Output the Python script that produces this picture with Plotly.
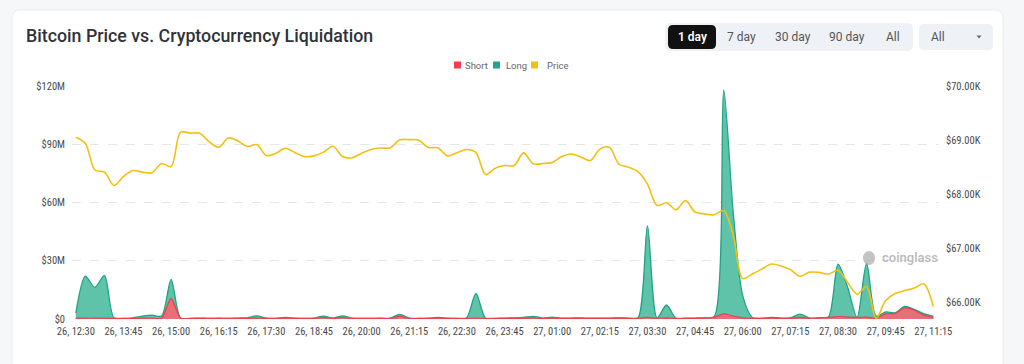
import plotly.graph_objects as go

# ---------------- data ----------------
x_labels = ["26, 12:30", "26, 13:45", "26, 15:00", "26, 16:15", "26, 17:30", "26, 18:45",
            "26, 20:00", "26, 21:15", "26, 22:30", "26, 23:45", "27, 01:00", "27, 02:15",
            "27, 03:30", "27, 04:45", "27, 06:00", "27, 07:15", "27, 08:30", "27, 09:45",
            "27, 11:15"]

long_m = [3.0, 22.1, 16.3, 22.5, 0.6, 0.3, 0.6, 1.5, 2.0, 1.5,
          20.4, 0.4, 0.3, 0.5, 0.3, 0.4, 0.3, 0.5, 0.6, 1.6,
          0.4, 0.3, 0.8, 0.4, 0.3, 0.4, 1.5, 0.5, 1.6, 0.4,
          0.3, 0.3, 0.4, 0.5, 2.4, 0.5, 0.3, 0.4, 0.8, 0.4,
          0.3, 0.5, 13.2, 0.4, 0.3, 0.5, 0.6, 0.8, 1.4, 0.5,
          1.0, 0.4, 0.5, 0.6, 0.4, 0.5, 0.5, 0.6, 0.5, 0.5,
          48.0, 0.5, 7.2, 0.4, 0.5, 0.5, 0.6, 1.2, 118.0, 55.0,
          12.0, 0.8, 0.4, 0.8, 0.5, 0.6, 2.5, 0.5, 0.6, 1.0,
          28.2, 16.5, 0.8, 28.7, 1.5, 3.6, 3.2, 6.5, 5.0, 2.8,
          1.5]

short_m = [0.5, 0.4, 0.4, 0.4, 0.3, 0.3, 0.3, 0.4, 0.4, 0.5,
           10.5, 0.5, 0.3, 0.3, 0.3, 0.3, 0.3, 0.3, 0.3, 0.5,
           0.3, 0.3, 0.4, 0.3, 0.3, 0.3, 0.8, 0.3, 0.8, 0.3,
           0.3, 0.3, 0.3, 0.3, 1.5, 0.3, 0.3, 0.3, 0.4, 0.3,
           0.3, 0.3, 0.5, 0.3, 0.3, 0.3, 0.3, 0.4, 0.6, 0.3,
           0.4, 0.3, 0.3, 0.3, 0.3, 0.3, 0.3, 0.4, 0.3, 0.4,
           0.8, 0.4, 0.6, 0.3, 0.3, 0.3, 0.4, 1.0, 2.6, 1.5,
           0.6, 0.3, 0.3, 0.4, 0.3, 0.4, 0.8, 0.4, 0.5, 0.8,
           1.3, 1.0, 0.8, 1.0, 0.5, 2.6, 2.9, 5.8, 4.5, 2.0,
           0.8]

price = [69053, 68940, 68450, 68410, 68164, 68330, 68440, 68410, 68400, 68570,
         68514, 69150, 69130, 69127, 68970, 68869, 69040, 68990, 68882, 68919,
         68716, 68760, 68850, 68770, 68698, 68710, 68780, 68888, 68698, 68675,
         68760, 68830, 68855, 68858, 69006, 69010, 69000, 68865, 68860, 68711,
         68770, 68827, 68770, 68366, 68480, 68532, 68532, 68766, 68564, 68570,
         68590, 68700, 68745, 68690, 68624, 68835, 68869, 68560, 68500, 68420,
         68190, 67796, 67845, 67716, 67888, 67672, 67640, 67624, 67700, 67250,
         66446, 66530, 66620, 66715, 66680, 66611, 66490, 66565, 66560, 66530,
         66600, 66380, 66160, 66300, 65710, 66040, 66170, 66225, 66270, 66350,
         65930]

left_ticks_m = [0, 30, 60, 90, 120]
left_tick_text = ["$0", "$30M", "$60M", "$90M", "$120M"]
right_ticks = [66000, 67000, 68000, 69000, 70000]
right_tick_text = ["$66.00K", "$67.00K", "$68.00K", "$69.00K", "$70.00K"]
range_buttons = ["1 day", "7 day", "30 day", "90 day", "All"]

# ---------------- helpers ----------------
W, H = 1024, 364
def px(x):
    return x / W
def py(y):
    return 1 - y / H

def rrect(x0, y0, x1, y1, r):
    rx, ry = r / W, r / H
    X0, X1 = px(x0), px(x1)
    Y0, Y1 = py(y0), py(y1)  # Y0 top (bigger)
    return (f"M {X0+rx},{Y0} L {X1-rx},{Y0} Q {X1},{Y0} {X1},{Y0-ry} "
            f"L {X1},{Y1+ry} Q {X1},{Y1} {X1-rx},{Y1} L {X0+rx},{Y1} "
            f"Q {X0},{Y1} {X0},{Y1+ry} L {X0},{Y0-ry} Q {X0},{Y0} {X0+rx},{Y0} Z")

idx = list(range(len(price)))
long_v = [v * 1e6 for v in long_m]
short_v = [v * 1e6 for v in short_m]

RED_LINE = "#ee3f50"
RED_FILL = "rgba(243,104,116,0.92)"
TEAL_LINE = "#21a384"
TEAL_FILL = "rgba(86,192,164,0.95)"
YELLOW = "#f3c012"
TICK_FONT = dict(family="Liberation Sans Narrow, Roboto Condensed, Roboto, sans-serif", size=10.5, color="#4a4a4a")

fig = go.Figure()
fig.add_trace(go.Scatter(x=idx, y=long_v, name="Long", mode="lines",
                         line=dict(color=TEAL_LINE, width=1.3, shape="spline", smoothing=0.8),
                         fill="tozeroy", fillcolor=TEAL_FILL, showlegend=False))
fig.add_trace(go.Scatter(x=idx, y=short_v, name="Short", mode="lines",
                         line=dict(color=RED_LINE, width=1.2, shape="spline", smoothing=0.8),
                         fill="tozeroy", fillcolor=RED_FILL, showlegend=False))
fig.add_trace(go.Scatter(x=idx, y=price, name="Price", mode="lines", yaxis="y2",
                         line=dict(color=YELLOW, width=1.6, shape="spline", smoothing=0.9),
                         showlegend=False))

shapes = [
    # white card
    dict(type="path", path=rrect(12, 10, 1003, 420, 8), xref="paper", yref="paper",
         fillcolor="white", line=dict(color="#ececec", width=1), layer="below"),
    # button group
    dict(type="path", path=rrect(665, 23, 913, 51, 6), xref="paper", yref="paper",
         fillcolor="#eef1f5", line=dict(width=0), layer="below"),
    dict(type="path", path=rrect(668, 25, 716, 49, 5), xref="paper", yref="paper",
         fillcolor="#111111", line=dict(width=0), layer="below"),
    # dropdown
    dict(type="path", path=rrect(919, 24, 993, 50, 5), xref="paper", yref="paper",
         fillcolor="#eef1f5", line=dict(width=0), layer="below"),
    # caret
    dict(type="path", path=f"M {px(976.5)},{py(35.5)} L {px(981.5)},{py(35.5)} L {px(979)},{py(38.5)} Z",
         xref="paper", yref="paper", fillcolor="#666", line=dict(width=0)),
    # legend squares
    dict(type="rect", x0=px(454), x1=px(461), y0=py(61.5), y1=py(68.5), xref="paper", yref="paper",
         fillcolor="#f23d4f", line=dict(width=0)),
    dict(type="rect", x0=px(493), x1=px(500), y0=py(61.5), y1=py(68.5), xref="paper", yref="paper",
         fillcolor="#1fa98a", line=dict(width=0)),
    dict(type="rect", x0=px(531), x1=px(538), y0=py(61.5), y1=py(68.5), xref="paper", yref="paper",
         fillcolor="#f3c012", line=dict(width=0)),
    # watermark logo blob
    dict(type="circle", x0=px(863), x1=px(875), y0=py(251), y1=py(265), xref="paper", yref="paper",
         fillcolor="rgba(170,170,170,0.7)", line=dict(width=0)),
]

annotations = [
    dict(text="Bitcoin Price vs. Cryptocurrency Liquidation", x=px(24), y=py(35), xref="paper", yref="paper",
         xanchor="left", yanchor="middle", showarrow=False,
         font=dict(family="Roboto, sans-serif", size=17.8, color="#2f3338", weight=500)),
    dict(text="coinglass", x=px(880), y=py(257), xref="paper", yref="paper", xanchor="left",
         yanchor="middle", showarrow=False,
         font=dict(family="Roboto, sans-serif", size=13, color="rgba(165,165,165,0.75)", weight=600)),
    dict(text="All", x=px(929), y=py(37), xref="paper", yref="paper", xanchor="left", yanchor="middle",
         showarrow=False, font=dict(family="Roboto, sans-serif", size=12, color="#555")),
]
btn_x = [692, 741, 793, 847, 893]
for lbl, bx in zip(range_buttons, btn_x):
    first = lbl == "1 day"
    annotations.append(dict(text=lbl, x=px(bx), y=py(37), xref="paper", yref="paper", xanchor="center",
                            yanchor="middle", showarrow=False,
                            font=dict(family="Roboto, sans-serif", size=12,
                                      color="white" if first else "#555", weight=600 if first else 400)))
for lbl, lx in [("Short", 463), ("Long", 503.5), ("Price", 545)]:
    annotations.append(dict(text=lbl, x=px(lx), y=py(65), xref="paper", yref="paper", xanchor="left",
                            yanchor="middle", showarrow=False,
                            font=dict(family="Roboto, sans-serif", size=9.5, color="#666")))

fig.update_layout(
    width=W, height=H,
    margin=dict(l=0, r=0, t=0, b=0, pad=0, autoexpand=False),
    paper_bgcolor="#f6f7f8",
    plot_bgcolor="rgba(0,0,0,0)",
    shapes=shapes,
    annotations=annotations,
    showlegend=False,
    xaxis=dict(domain=[px(72), px(939)], range=[-0.4, 90.6], tickmode="array",
               tickvals=[i * 5 for i in range(len(x_labels))], ticktext=x_labels,
               showgrid=False, zeroline=False, showline=False, ticks="", automargin=False,
               tickfont=TICK_FONT, ticklabelstandoff=4, fixedrange=True),
    yaxis=dict(domain=[py(319), py(86)], range=[0, 120e6], tickmode="array",
               tickvals=[v * 1e6 for v in left_ticks_m], ticktext=left_tick_text,
               showgrid=True, gridcolor="#e6e6e6", griddash="dash", gridwidth=1, automargin=False,
               zeroline=False, showline=False, ticks="", tickfont=TICK_FONT, ticklabelstandoff=6),
    yaxis2=dict(overlaying="y", side="right", anchor="x", range=[65700, 70000], tickmode="array",
                tickvals=right_ticks, ticktext=right_tick_text, showgrid=False, zeroline=False,
                automargin=False, showline=False, ticks="", tickfont=TICK_FONT, ticklabelstandoff=6),
)

fig.write_html("out.html", config={"displayModeBar": False},
               post_script="document.body.style.margin='0';document.body.style.background='#f6f7f8';")
